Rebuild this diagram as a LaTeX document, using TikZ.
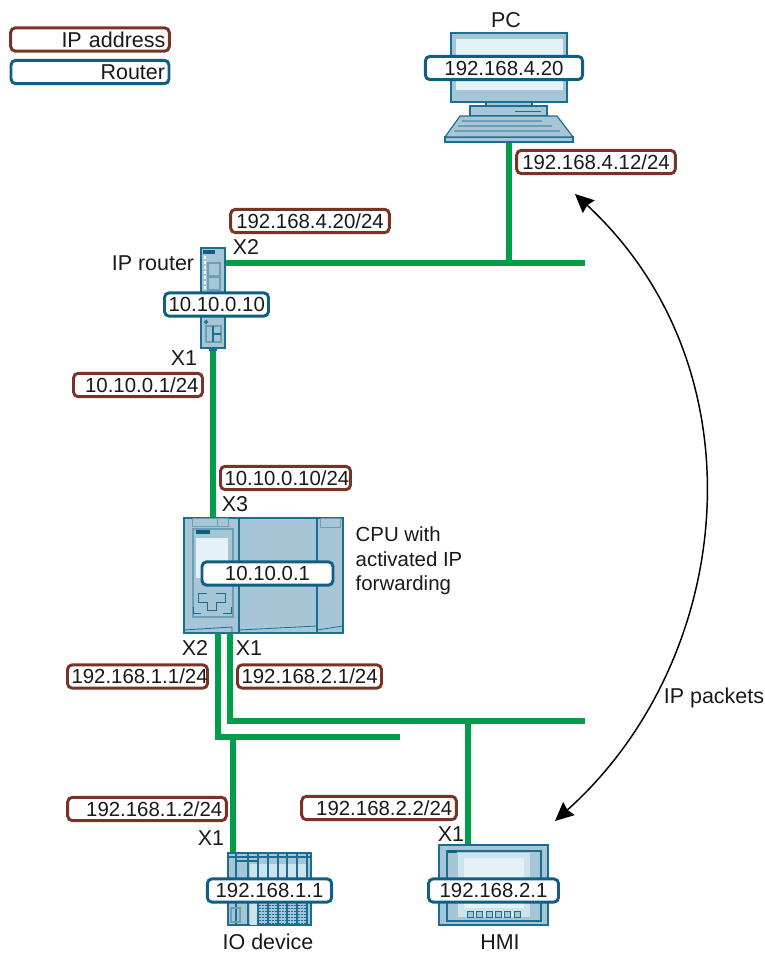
\documentclass[tikz,border=0pt]{standalone}
\usepackage{fontspec}
\setmainfont{Liberation Sans}
\usetikzlibrary{arrows.meta,positioning}
\definecolor{addrcol}{HTML}{7B3226}
\definecolor{routcol}{HTML}{0F5F85}
\definecolor{netcol}{HTML}{009E49}
\definecolor{devfill}{HTML}{A6C6D6}
\definecolor{devline}{HTML}{1A6E93}
\definecolor{scrfill}{HTML}{E4F2F8}
\definecolor{devmid}{HTML}{CFE3EC}
\definecolor{devdark}{HTML}{6E9EB5}
\tikzset{
  tag/.style={fill=white,line width=2.2pt,rounded corners=3.5pt,minimum height=17.5pt,inner ysep=0pt,inner xsep=3pt},
  addr/.style={tag,draw=addrcol},
  rout/.style={tag,draw=routcol},
  word/.style={font=\fontsize{16.1}{18.8}\selectfont},
  dev/.style={draw=devline,fill=devfill,line width=.9pt,inner sep=0pt},
  devln/.style={draw=devline,line width=.8pt},
  link/.style={draw=netcol,line width=3.8pt},
}
\begin{document}
\begin{tikzpicture}[x=.75pt,y=-.75pt,every node/.style={font=\fontsize{15.3}{18.5}\selectfont,text=black!90}]
\useasboundingbox (0,0) rectangle (764,953);
% devices
\node[dev,minimum width=96pt,minimum height=3.75pt] (pckey) at (509,139.5) {};
\node[dev,minimum width=18pt,minimum height=75pt] (ipr) at (213,298) {};
\node[dev,minimum width=119.25pt,minimum height=86.25pt] (cpu) at (263.5,575.5) {};
\node[dev,minimum width=62.25pt,minimum height=54pt] (iodev) at (269.5,889) {};
\node[dev,minimum width=81.75pt,minimum height=60pt] (hmi) at (493.5,885) {};
% network
\coordinate (tapA) at (509,263);
\coordinate (endA) at (585,263);
\coordinate (portA) at (218,633);
\coordinate (portB) at (230,633);
\coordinate (cornA) at (218,737);
\coordinate (cornB) at (230,721);
\coordinate (endB) at (400,737);
\coordinate (endC) at (585,721);
\coordinate (tapB) at (233,737);
\coordinate (tapC) at (468,721);
\draw[link] (pckey.south) -- (tapA);
\draw[link] (ipr.east |- tapA) -- (endA);
\draw[link] (ipr.south) -- (ipr.south |- cpu.north);
\draw[link] (portA) -- (cornA) -- (endB);
\draw[link] (portB) -- (cornB) -- (endC);
\draw[link] (tapB) -- (tapB |- iodev.north);
\draw[link] (tapC) -- (tapC |- hmi.north);
% pc
\fill[devfill] (486,102) rectangle (532,106);
\draw[devln] (486,102) -- (486,106) (532,102) -- (532,106);
\draw[dev] (451,33) rectangle (567,102);
\fill[scrfill] (456,39) rectangle (563,90);
\draw[dev] (470,106) rectangle (547,116);
\draw[devln,line width=.5pt] (515,111) -- (541,111);
\draw[dev] (460,116) -- (557,116) -- (573,137) -- (445,137) -- cycle;
\foreach \yy/\xa/\xb in {121/462/542,126/458/552,131/454/560}
  \draw[devdark,line width=.8pt] (\xa,\yy) -- (\xb,\yy);
% router
\fill[routcol] (203,250) rectangle (215,254);
\foreach \yy in {256,261,266,271,276,281,286}
  \fill[white] (204,\yy) rectangle (206,\yy+3);
\draw[devdark,line width=.8pt] (208,263) rectangle (220,276) (208,277) rectangle (220,290) (206,326) rectangle (221,342);
\draw[devln] (213,326) -- (213,342) (213,334) -- (221,334);
\draw[devln] (206,322) circle (1.5);
\fill[devline] (209,348) rectangle (217,351);
% cpu
\draw[devln] (239,518) -- (239,633) (317,518) -- (317,633);
\draw[devdark,line width=.6pt] (192,518) rectangle (228,526) (320,518) rectangle (340,527);
\draw[devdark,line width=.6pt] (217,518) -- (217,526);
\draw[devdark,line width=.8pt] (193,529) rectangle (233,617);
\fill[routcol] (196,530) rectangle (210,534);
\fill[scrfill] (196,538) rectangle (228,578);
\draw[devline,line width=.6pt] (184,630) -- (232,627) -- (232,633) (239,630) -- (317,626) (317,630) -- (343,626);
\draw[devline,line width=.7pt] (207,593) -- (198,593) -- (198,602) -- (207,602) -- (207,610) -- (216,610) -- (216,602) -- (225,602) -- (225,593) -- (216,593);
\draw[devline,line width=.7pt] (193,607) -- (193,613) -- (201,613) (231,607) -- (231,613) -- (223,613);
% io device
\draw[devln] (228,857) -- (311,857) (236,861) -- (258,861);
\fill[devmid] (250,864) rectangle (257,925);
\foreach \xx in {259,269,279,288,298}
  \fill[devmid] (\xx,864) rectangle (\xx+8,880);
\foreach \xx in {236,248,258,268,278,287,297,307}
  \draw[devln] (\xx,853) -- (\xx,925);
\foreach \xx in {259,269,279,288,298}
  \foreach \xa in {1,4,7}
    \draw[devline,line width=1.1pt,dash pattern=on 1.1pt off 1.1pt] (\xx+\xa,905) -- (\xx+\xa,925);
\draw[devdark,line width=.8pt] (231,908) rectangle (240,922);
% hmi
\draw[devln] (447,851) rectangle (541,921);
\fill[devmid] (458,853) rectangle (530,917);
\fill[scrfill] (464,858) rectangle (524,908);
\fill[routcol] (448,850) rectangle (457,853);
\foreach \xx in {470,479,489,498,507,517}
  \draw[devline,fill=devfill,line width=.5pt] (\xx-3,911) rectangle (\xx+3,917);
% packets
\node[word] (lblpkt) at (714,698) {IP packets};
\coordinate (pktA) at (575,194);
\coordinate (pktB) at (555,821);
\draw[{Stealth[length=14pt,width=13pt,inset=1.5pt]}-{Stealth[length=14pt,width=13pt,inset=1.5pt]},line width=1.1pt,black] (pktA) .. controls (765,370) and (735,660) .. (pktB);
% texts
\node[word] (lblpc) at (506,20) {PC};
\node[word] (lblipr) at (153,263) {IP router};
\node[anchor=west,align=left] (lblcpu) at (351,561) {CPU with\\activated IP\\forwarding};
\node[word,inner sep=0pt] (lblio) at (268,942) {IO device};
\node[word,inner sep=0pt] (lblhmi) at (500,942) {HMI};
\node[word] (xpa) at (246,247) {X2};
\node[word] (xpb) at (184,358) {X1};
\node[word] (xpc) at (235,504) {X3};
\node[word] (xpd) at (195,648) {X2};
\node[word] (xpe) at (249,648) {X1};
\node[word] (xpf) at (211,838) {X1};
\node[word] (xpg) at (451,834) {X1};
% tags
\node[addr,text width=113pt,align=right,word] (keyaddr) at (90,39.5) {IP address};
\node[rout,text width=112.5pt,align=right,word] (keyrout) at (90,72) {Router};
\node[rout,text width=112pt,align=center] (pcrout) at (504,68) {192.168.4.20};
\node[addr,text width=113pt,align=center] (pcaddr) at (596,162) {192.168.4.12/24};
\node[addr,text width=113pt,align=center] (iprb) at (310,221) {192.168.4.20/24};
\node[rout,text width=72pt,align=center] (iprr) at (216.5,304.5) {10.10.0.10};
\node[addr,text width=90.75pt,align=right] (ipra) at (138,385) {10.10.0.1/24};
\node[addr,text width=91.5pt,align=center] (cpuc) at (285.5,478) {10.10.0.10/24};
\node[rout,text width=92.25pt,align=center] (cpur) at (267.5,573.5) {10.10.0.1};
\node[addr,text width=99pt,align=center] (cpua) at (137.5,676.5) {192.168.1.1/24};
\node[addr,text width=102pt,align=center] (cpub) at (309.5,676.5) {192.168.2.1/24};
\node[addr,text width=113pt,align=right] (ioaddr) at (147,809) {192.168.1.2/24};
\node[addr,text width=110pt,align=right] (hmiaddr) at (379,808) {192.168.2.2/24};
\node[rout,text width=87.25pt,align=center] (iorout) at (269.5,890.5) {192.168.1.1};
\node[rout,text width=91.5pt,align=center] (hmirout) at (493.5,890.5) {192.168.2.1};
\end{tikzpicture}
\end{document}
